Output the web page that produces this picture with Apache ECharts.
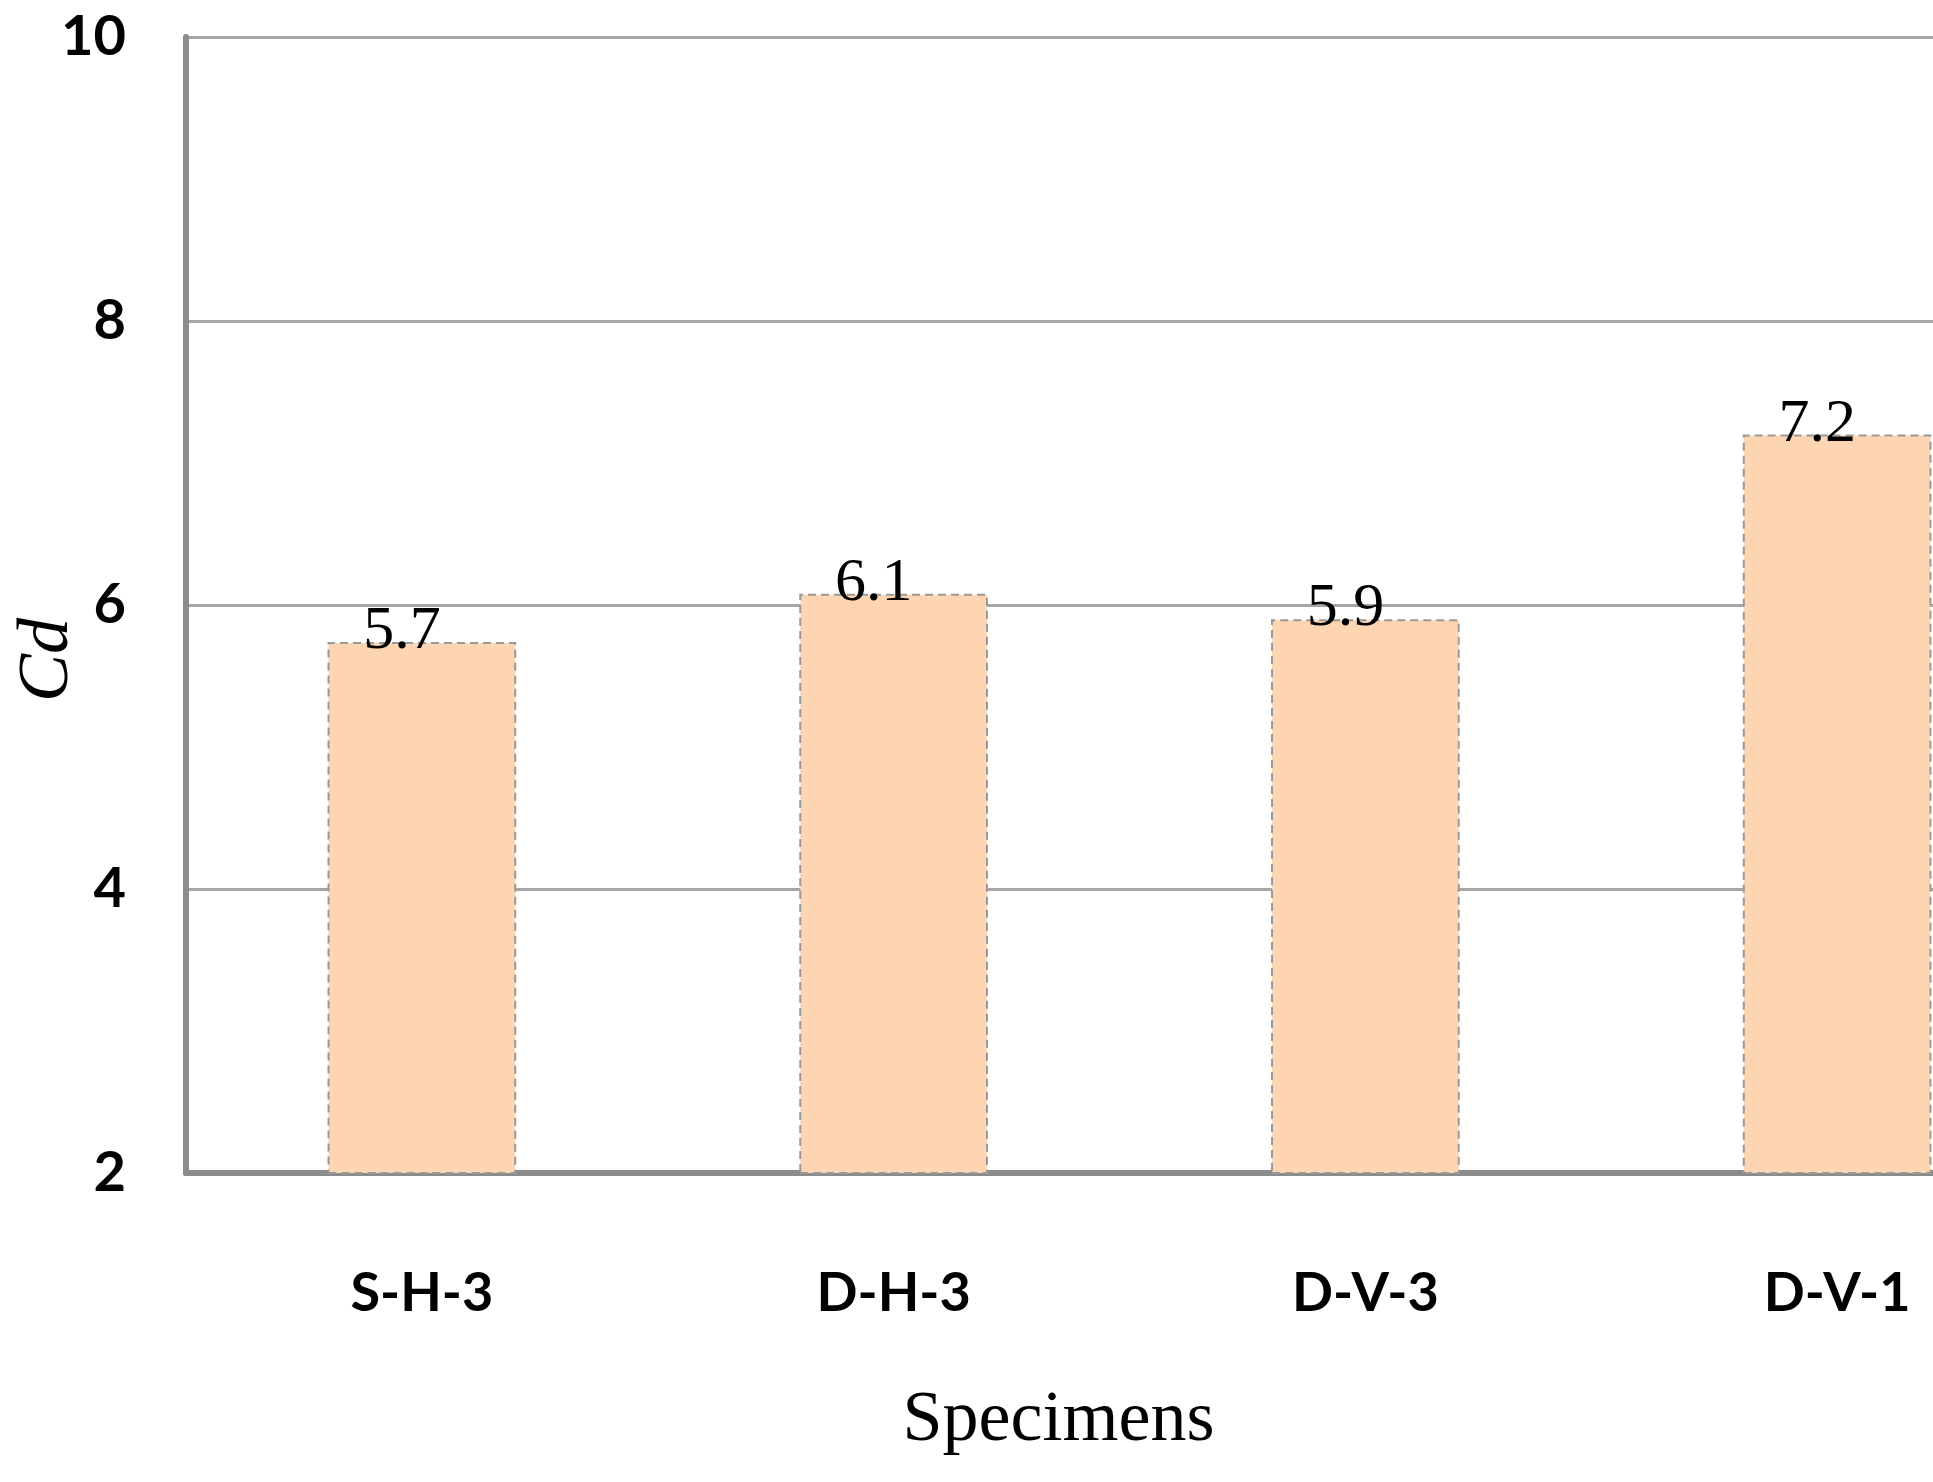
<!DOCTYPE html>
<html>
<head>
<meta charset="utf-8">
<script src="https://cdn.jsdelivr.net/npm/echarts@6/dist/echarts.min.js"></script>
<style>
  html, body { margin: 0; padding: 0; background: #fff; }
  #chart { width: 1933px; height: 1482px; }
</style>
</head>
<body>
<div id="chart"></div>
<script>
// data
const specimens = ['S-H-3', 'D-H-3', 'D-V-3', 'D-V-1'];
const cdValues = [5.74, 6.08, 5.9, 7.2];
const yTicks = [2, 4, 6, 8, 10];

const boldSans = 'Lato, "Liberation Sans Narrow", Roboto, sans-serif';
const serif = '"Liberation Serif", "Times New Roman", serif';

let myChart = echarts.init(document.getElementById('chart'));
myChart.setOption({
    backgroundColor: '#fff',
    animation: false,
    grid: {
        left: 186,
        top: 37,
        width: 1887,
        height: 1136,
        outerBoundsMode: 'none'
    },
    // y axis title, placed by hand because it sits below the axis middle
    graphic: [{
        type: 'text',
        x: 48,
        y: 660,
        rotation: Math.PI / 2,
        style: {
            text: 'Cd',
            fill: '#000',
            font: 'italic 72px "Liberation Serif", serif',
            align: 'center',
            verticalAlign: 'middle'
        }
    }],
    xAxis: {
        type: 'category',
        data: specimens,
        name: 'Specimens',
        nameLocation: 'middle',
        nameGap: 212,
        nameTextStyle: {
            fontFamily: serif,
            fontSize: 72,
            color: '#000',
            padding: [0, 142, 0, 0]
        },
        axisLine: { lineStyle: { color: '#8c8c8c', width: 6 } },
        axisTick: { show: false },
        axisLabel: {
            margin: 94,
            fontFamily: boldSans,
            fontWeight: 'bold',
            fontSize: 54,
            color: '#000'
        }
    },
    yAxis: {
        type: 'value',
        min: yTicks[0],
        max: yTicks[yTicks.length - 1],
        interval: 2,
        axisLine: { show: true, lineStyle: { color: '#8c8c8c', width: 6 } },
        axisTick: { show: false },
        axisLabel: {
            margin: 60,
            fontFamily: boldSans,
            fontWeight: 'bold',
            fontSize: 56,
            color: '#000'
        },
        splitLine: { lineStyle: { color: '#a6a6a6', width: 3 } }
    },
    series: [{
        type: 'bar',
        data: cdValues,
        barWidth: '40%',
        itemStyle: {
            color: '#fdd5b2',
            borderColor: '#999',
            borderWidth: 2,
            borderType: [8, 5]
        },
        label: {
            show: true,
            position: 'top',
            distance: -21,
            offset: [-20, 0],
            fontFamily: serif,
            fontSize: 62,
            color: '#000',
            formatter: (p) => p.value.toFixed(1)
        }
    }]
});
</script>
</body>
</html>
